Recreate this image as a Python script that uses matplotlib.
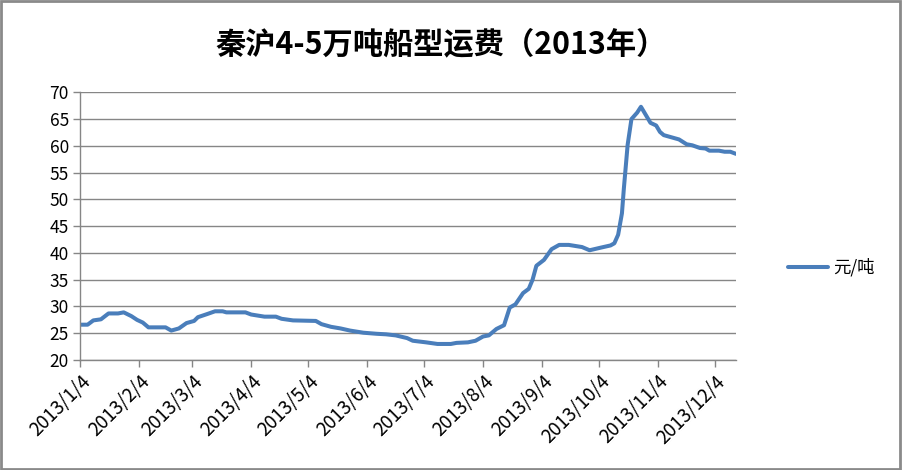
import matplotlib
matplotlib.use("Agg")
import matplotlib.pyplot as plt
import pandas as pd

plt.rcParams["font.family"] = ["Noto Sans CJK SC", "DejaVu Sans"]

TITLE = "秦沪4-5万吨船型运费（2013年）"
SERIES = "元/吨"

dates = [
    "2013-01-04", "2013-01-08", "2013-01-11", "2013-01-15", "2013-01-19", "2013-01-24",
    "2013-01-27", "2013-01-31", "2013-02-03", "2013-02-06", "2013-02-09", "2013-02-18",
    "2013-02-21", "2013-02-25", "2013-03-01", "2013-03-05", "2013-03-07", "2013-03-12",
    "2013-03-16", "2013-03-20", "2013-03-22", "2013-04-01", "2013-04-04", "2013-04-11",
    "2013-04-17", "2013-04-20", "2013-04-26", "2013-05-08", "2013-05-11", "2013-05-16",
    "2013-05-21", "2013-05-26", "2013-06-02", "2013-06-09", "2013-06-14", "2013-06-19",
    "2013-06-25", "2013-06-28", "2013-07-05", "2013-07-11", "2013-07-18", "2013-07-21",
    "2013-07-27", "2013-07-31", "2013-08-04", "2013-08-07", "2013-08-11", "2013-08-15",
    "2013-08-18", "2013-08-21", "2013-08-25", "2013-08-28", "2013-08-30", "2013-09-01",
    "2013-09-05", "2013-09-09", "2013-09-13", "2013-09-18", "2013-09-25", "2013-09-29",
    "2013-10-05", "2013-10-10", "2013-10-12", "2013-10-14", "2013-10-16", "2013-10-17",
    "2013-10-19", "2013-10-21", "2013-10-24", "2013-10-26", "2013-10-28", "2013-10-31",
    "2013-11-03", "2013-11-05", "2013-11-07", "2013-11-13", "2013-11-15", "2013-11-19",
    "2013-11-22", "2013-11-26", "2013-11-29", "2013-12-01", "2013-12-06", "2013-12-09",
    "2013-12-12", "2013-12-15",
]
freight = [
    26.6, 26.6, 27.4, 27.6, 28.7, 28.7,
    28.9, 28.2, 27.5, 27.0, 26.1, 26.1,
    25.5, 25.9, 26.9, 27.3, 28.0, 28.6,
    29.1, 29.1, 28.9, 28.9, 28.5, 28.1,
    28.1, 27.7, 27.4, 27.3, 26.7, 26.2,
    25.9, 25.5, 25.1, 24.9, 24.8, 24.6,
    24.1, 23.6, 23.3, 23.0, 23.0, 23.2,
    23.3, 23.6, 24.4, 24.6, 25.8, 26.5,
    29.8, 30.4, 32.5, 33.3, 35.0, 37.6,
    38.7, 40.7, 41.5, 41.5, 41.1, 40.5,
    41.0, 41.4, 41.8, 43.4, 47.4, 52.0,
    60.2, 65.0, 66.2, 67.3, 66.1, 64.3,
    63.8, 62.6, 62.0, 61.4, 61.2, 60.3,
    60.1, 59.6, 59.5, 59.1, 59.1, 58.9,
    58.9, 58.5,
]

tick_dates = ["2013-01-04", "2013-02-04", "2013-03-04", "2013-04-04", "2013-05-04",
              "2013-06-04", "2013-07-04", "2013-08-04", "2013-09-04", "2013-10-04",
              "2013-11-04", "2013-12-04"]
tick_labels = ["2013/1/4", "2013/2/4", "2013/3/4", "2013/4/4", "2013/5/4", "2013/6/4",
               "2013/7/4", "2013/8/4", "2013/9/4", "2013/10/4", "2013/11/4", "2013/12/4"]
y_ticks = [20, 25, 30, 35, 40, 45, 50, 55, 60, 65, 70]

GRID = "#868686"
BLUE = "#4A7EBB"

x = pd.to_datetime(dates)
xt = pd.to_datetime(tick_dates)

fig = plt.figure(figsize=(9.02, 4.70), dpi=100)
ax = fig.add_axes([0.0887, 0.234, 0.7273, 0.5696])

ax.plot(x, freight, color=BLUE, linewidth=2.9, label=SERIES, solid_capstyle="round")

ax.set_xlim(x[0], x[-1])
ax.set_ylim(20, 70)
ax.set_yticks(y_ticks)
ax.set_yticklabels([str(v) for v in y_ticks], fontsize=12.5)
ax.set_xticks(xt)
ax.set_xticklabels(tick_labels, fontsize=13.5, rotation=45, ha="right",
                   rotation_mode="anchor")

ax.grid(axis="y", color=GRID, linewidth=1.0)
ax.set_axisbelow(True)
for side in ("top", "right"):
    ax.spines[side].set_visible(False)
for side in ("left", "bottom"):
    ax.spines[side].set_color(GRID)
    ax.spines[side].set_linewidth(1.0)
ax.tick_params(axis="both", color=GRID, length=5, width=1.0, pad=3)

fig.text(0.489, 0.905, TITLE, ha="center", va="center", fontsize=21.8, weight="bold")

ax.legend(loc="center left", bbox_to_anchor=(1.055, 0.345), frameon=False,
          fontsize=12.5, handlelength=2.3, handletextpad=0.3)

fig.patches.append(plt.Rectangle((0.001, 0.002), 0.997, 0.995, transform=fig.transFigure,
                                 fill=False, edgecolor="#8a8a8a", linewidth=2.0))

fig.savefig("out.png", dpi=100)
